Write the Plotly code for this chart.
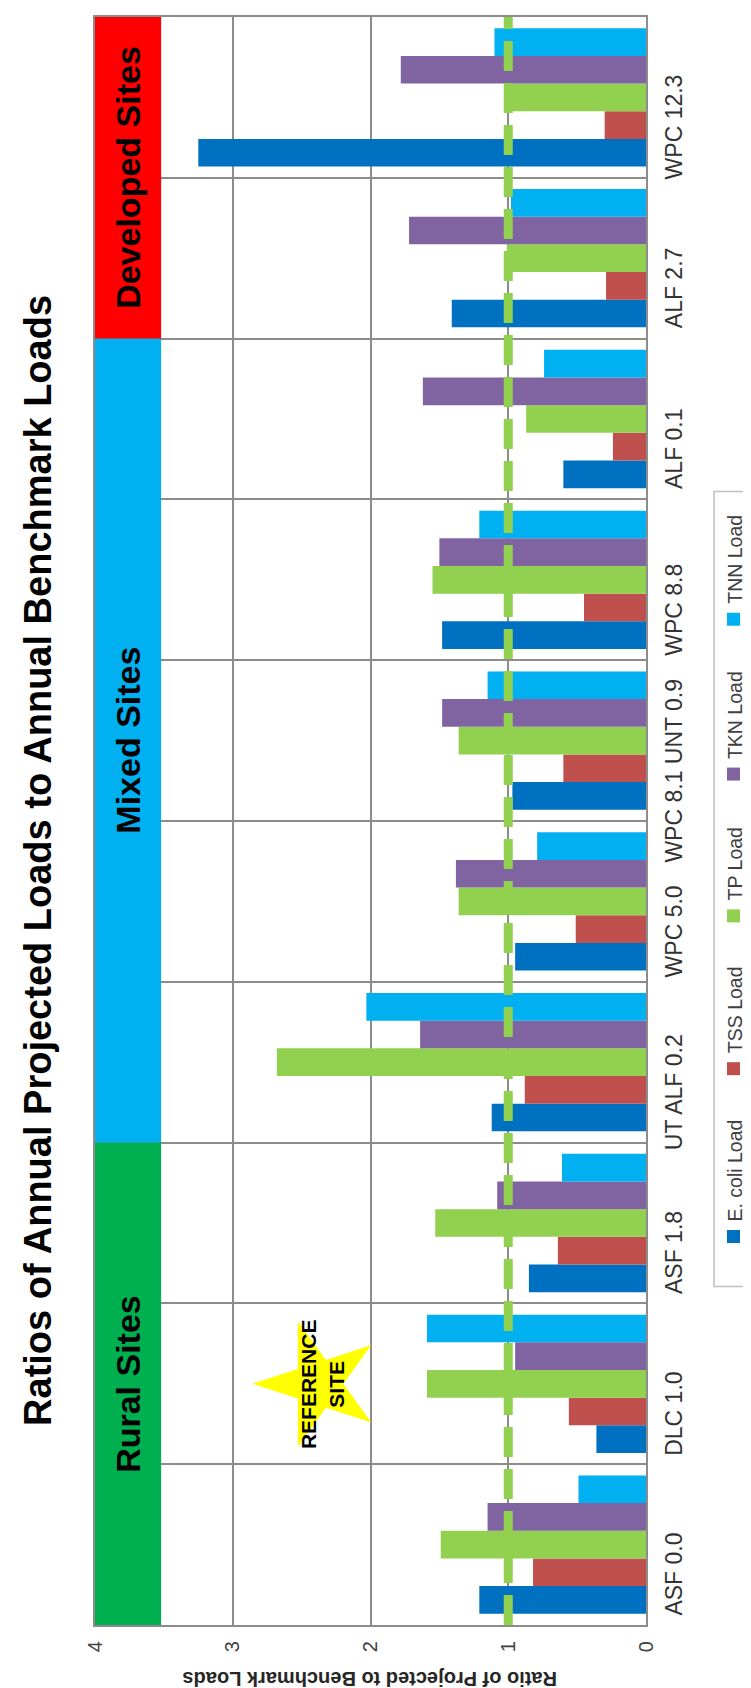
import plotly.graph_objects as go

# ---------------- data ----------------
categories = ["ASF 0.0", "DLC 1.0", "ASF 1.8", "UT ALF 0.2", "WPC 5.0",
              "WPC 8.1 UNT 0.9", "WPC 8.8", "ALF 0.1", "ALF 2.7", "WPC 12.3"]
series_names = ["E. coli Load", "TSS Load", "TP Load", "TKN Load", "TNN Load"]
ecoli = [1.21, 0.36, 0.85, 1.12, 0.95, 0.97, 1.48, 0.60, 1.41, 3.25]
tss = [0.82, 0.56, 0.64, 0.88, 0.51, 0.60, 0.45, 0.24, 0.29, 0.30]
tp = [1.49, 1.59, 1.53, 2.68, 1.36, 1.36, 1.55, 0.87, 1.01, 1.01]
tkn = [1.15, 0.95, 1.08, 1.64, 1.38, 1.48, 1.50, 1.62, 1.72, 1.78]
tnn = [0.49, 1.59, 0.61, 2.03, 0.79, 1.15, 1.21, 0.74, 0.98, 1.10]
series_values = [ecoli, tss, tp, tkn, tnn]
series_colors = ["#0070C0", "#C0504D", "#92D050", "#8064A2", "#00B0F0"]

site_groups = ["Rural Sites", "Mixed Sites", "Developed Sites"]
group_counts = [3, 5, 2]
group_colors = ["#00B050", "#00B0F0", "#FF0000"]

benchmark_ratio = 1
value_ticks = [0, 1, 2, 3, 4]
reference_site = "DLC 1.0"
reference_label_value = 2.35
reference_star_value = 2.38

title_text = "Ratios of Annual Projected Loads to Annual Benchmark Loads"
axis_title_text = "Ratio of Projected to Benchmark Loads"

# ---------------- layout geometry (pixels) ----------------
W, H = 751, 1688
L, R, T, B = 87, 113, 7, 71
PW, PH = W - L - R, H - T - B


def px(xp):
    return (xp - L) / PW


def py(yp):
    return (H - B - yp) / PH


FONT = "'Liberation Sans', Arial, sans-serif"
GRID = "#8C8C8C"

fig = go.Figure()
for name, vals, col in zip(series_names, series_values, series_colors):
    fig.add_trace(go.Bar(y=categories, x=vals, name=name, orientation="h",
                         marker=dict(color=col, line=dict(width=0)),
                         showlegend=False))

# reference star
fig.add_trace(go.Scatter(x=[reference_star_value], y=[reference_site], mode="markers",
                         marker=dict(symbol="star", size=94, color="#FFFF00", angle=-90,
                                     line=dict(width=0)),
                         showlegend=False, hoverinfo="skip"))

shapes = []
annotations = []

# category labels (rotated, slightly shifted as in the original)
for cat in categories:
    annotations.append(dict(x=px(666), y=cat, xref="paper", yref="y", text=cat,
                            showarrow=False, textangle=-90, yshift=-30,
                            xanchor="center", yanchor="middle",
                            font=dict(family=FONT, size=23, color="#333333")))

# site group bands
band_width = 0.48
start = -0.5
for g, n, c in zip(site_groups, group_counts, group_colors):
    shapes.append(dict(type="rect", xref="x", yref="y", x0=value_ticks[-1],
                       x1=value_ticks[-1] - band_width, y0=start, y1=start + n,
                       fillcolor=c, line=dict(width=0), layer="above"))
    annotations.append(dict(x=value_ticks[-1] - 0.24, y=start + n / 2,
                            xref="x", yref="y", text=g, showarrow=False, textangle=-90,
                            xanchor="center", yanchor="middle",
                            font=dict(family=FONT, size=34, color="black", weight="bold")))
    start += n

# benchmark dashed line
shapes.append(dict(type="line", xref="x", yref="paper", x0=benchmark_ratio, x1=benchmark_ratio,
                   y0=0, y1=1, line=dict(color="#92D050", width=9, dash="30px,12px"),
                   layer="above"))

# reference label
annotations.append(dict(x=reference_label_value, y=reference_site, xref="x", yref="y",
                        text="REFERENCE<br>SITE", showarrow=False, textangle=-90,
                        xanchor="center", yanchor="middle",
                        font=dict(family=FONT, size=21, color="black", weight="bold")))

# title
annotations.append(dict(x=px(30), y=py(852), xref="paper", yref="paper", text=title_text,
                        showarrow=False, textangle=-90, xanchor="center", yanchor="middle",
                        font=dict(family=FONT, size=38, color="black", weight="bold")))

# axis title (upside down)
annotations.append(dict(x=px(362), y=py(1671), xref="paper", yref="paper",
                        text=axis_title_text, showarrow=False, textangle=180,
                        xanchor="center", yanchor="middle",
                        font=dict(family=FONT, size=20, color="#262626", weight="bold")))

# legend (rotated) built from shapes + annotations
shapes.append(dict(type="rect", xref="paper", yref="paper", x0=px(706), x1=px(749),
                   y0=py(1278), y1=py(482), line=dict(color="#BFBFBF", width=1.5),
                   fillcolor="white", layer="above"))
legend_square_y = [1228, 1060, 907, 765, 610]
for name, col, sy in zip(series_names, series_colors, legend_square_y):
    shapes.append(dict(type="rect", xref="paper", yref="paper", x0=px(719), x1=px(732),
                       y0=py(sy + 6.5), y1=py(sy - 6.5), fillcolor=col,
                       line=dict(width=0), layer="above"))
    annotations.append(dict(x=px(727), y=py(sy - 13), xref="paper", yref="paper",
                            text=name, showarrow=False, textangle=-90,
                            xanchor="center", yanchor="bottom",
                            font=dict(family=FONT, size=19.5, color="#404040")))

fig.update_layout(
    width=W, height=H,
    margin=dict(l=L, r=R, t=T, b=B, pad=0),
    paper_bgcolor="white", plot_bgcolor="white",
    barmode="group", bargap=0.14, bargroupgap=0,
    shapes=shapes, annotations=annotations,
    font=dict(family=FONT),
    xaxis=dict(range=[4, 0], tickvals=value_ticks, ticktext=[str(v) for v in value_ticks],
               tickangle=-90, tickfont=dict(size=20, color="#404040", family=FONT),
               showgrid=True, gridcolor=GRID, gridwidth=2, zeroline=False,
               showline=True, linecolor=GRID, linewidth=2, mirror=True, ticks="",
               ticklabelstandoff=6),
    yaxis=dict(categoryorder="array", categoryarray=categories, side="right",
               showticklabels=False,
               showgrid=True, gridcolor=GRID, gridwidth=2, tickson="boundaries",
               showline=True, linecolor=GRID, linewidth=2, mirror=True, ticks=""),
)

fig.write_html("out.html")
